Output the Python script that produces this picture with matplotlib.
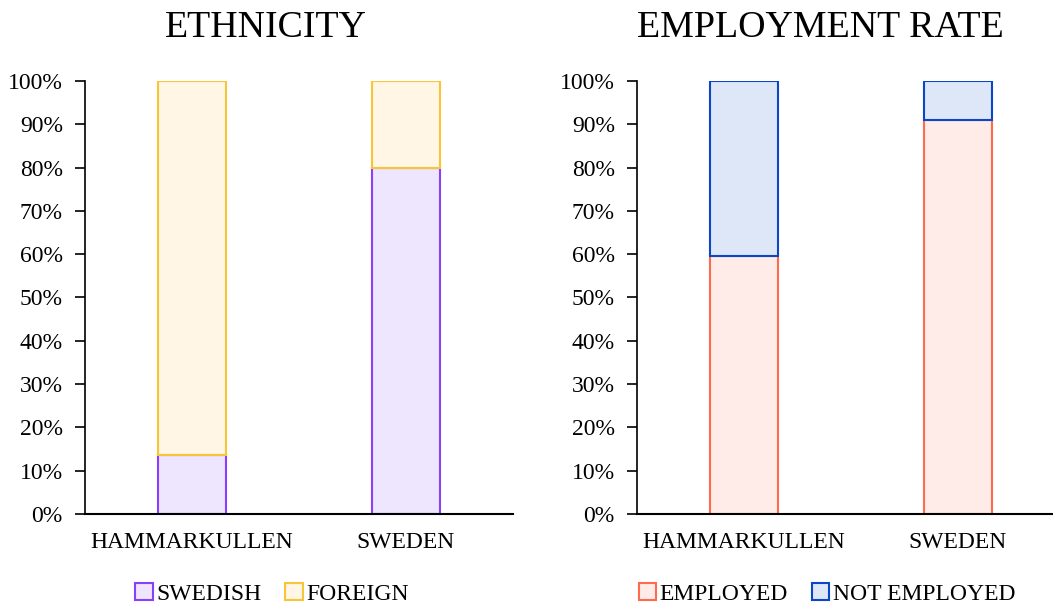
import matplotlib
matplotlib.use("Agg")
import matplotlib.pyplot as plt
from matplotlib.patches import Patch
from matplotlib.ticker import PercentFormatter

plt.rcParams['font.family'] = ['Liberation Serif', 'DejaVu Serif']

categories = ["HAMMARKULLEN", "SWEDEN"]
swedish = [13.6, 80.0]
foreign = [86.4, 20.0]
employed = [59.6, 91.0]
not_employed = [40.4, 9.0]
yticks = list(range(0, 101, 10))

c_swe = ("#EEE5FE", "#8A3FFC")
c_for = ("#FFF6E6", "#F8C537")
c_emp = ("#FFECE8", "#FF6A4D")
c_not = ("#DEE7F7", "#0B46C8")

fig = plt.figure(figsize=(10.53, 6.04), dpi=100)
H = 0.7169
B = 1 - 514 / 604
W = 428 / 1053
ax1 = fig.add_axes([85 / 1053, B, W, H])
ax2 = fig.add_axes([637 / 1053, B, W, H])

x = list(range(len(categories)))
bw = 0.318
FS = 17

def draw(ax, s1, s2, c1, c2, title, cx):
    ax.bar(x, s1, width=bw, color=c1[0], edgecolor=c1[1], linewidth=1.5)
    ax.bar(x, s2, bottom=s1, width=bw, color=c2[0], edgecolor=c2[1], linewidth=1.5)
    ax.set_xlim(-0.5, 1.5)
    ax.set_ylim(0, 100)
    ax.set_yticks(yticks)
    ax.yaxis.set_major_formatter(PercentFormatter(decimals=0))
    ax.set_xticks(x)
    ax.set_xticklabels(categories)
    ax.tick_params(axis='x', length=0, pad=13, labelsize=FS)
    ax.tick_params(axis='y', length=7, width=1.2, pad=9, labelsize=FS)
    for s in ['top', 'right']:
        ax.spines[s].set_visible(False)
    ax.spines['left'].set_linewidth(1.2)
    ax.spines['bottom'].set_linewidth(1.5)
    fig.text(cx, 1 - 28 / 604, title, ha='center', va='center', fontsize=27.3)
    handles = [Patch(facecolor=c1[0], edgecolor=c1[1], linewidth=1.5),
               Patch(facecolor=c2[0], edgecolor=c2[1], linewidth=1.5)]
    return handles

h1 = draw(ax1, swedish, foreign, c_swe, c_for, "ETHNICITY", 266 / 1053)
h2 = draw(ax2, employed, not_employed, c_emp, c_not, "EMPLOYMENT RATE", 820 / 1053)

fig.legend(h1, ["SWEDISH", "FOREIGN"], loc='center', bbox_to_anchor=(272 / 1053, 1 - 594 / 604),
           ncol=2, frameon=False, fontsize=FS, handlelength=0.75, handleheight=0.75,
           handletextpad=0.15, columnspacing=1.0)
fig.legend(h2, ["EMPLOYED", "NOT EMPLOYED"], loc='center', bbox_to_anchor=(827 / 1053, 1 - 594 / 604),
           ncol=2, frameon=False, fontsize=FS, handlelength=0.75, handleheight=0.75,
           handletextpad=0.15, columnspacing=1.0)

fig.savefig("out.png", dpi=100)
